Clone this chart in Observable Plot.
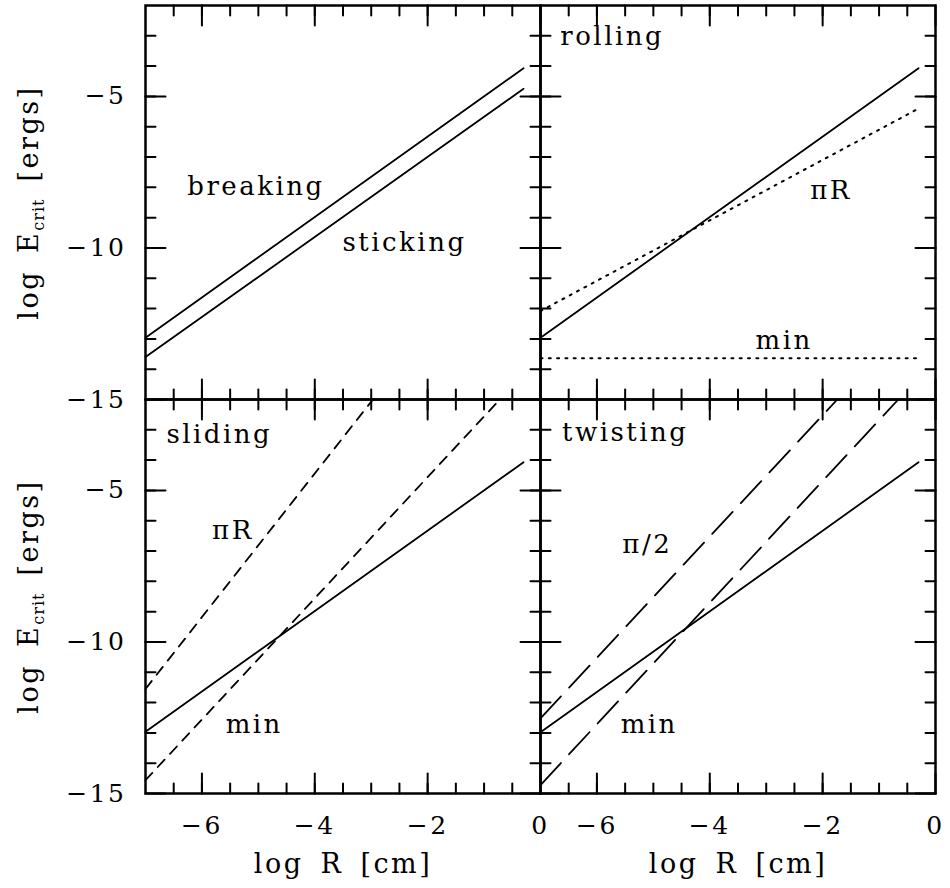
<!DOCTYPE html>
<html>
<head>
<meta charset="utf-8">
<script src="https://cdn.jsdelivr.net/npm/d3@7"></script>
<script src="https://cdn.jsdelivr.net/npm/@observablehq/plot@0.6"></script>
<style>
  html, body { margin: 0; padding: 0; background: #fff; }
  #chart svg text { letter-spacing: 2.5px; word-spacing: 5px; }
</style>
</head>
<body>
<div id="chart"></div>
<script>
// ---- panels ----
const panelCols = ["L", "R"];
const panelRows = ["T", "B"];

// ---- ticks ----
const xMajorTicks = [-6, -4, -2, 0];
const xMinorTicks = [-6.5, -6, -5.5, -5, -4.5, -4, -3.5, -3, -2.5, -2, -1.5, -1, -0.5];
const xTickLabels = ["−6", "−4", "−2", "0"];
const yMajorTicks = [-15, -10, -5];
const yMinorTicks = [-14, -13, -12, -11, -10, -9, -8, -7, -6, -5, -4, -3];
const yTickLabels = ["−15", "−10", "−5"];

// ---- curves (log R [cm], log E_crit [ergs]) ----
const curveLogR = [-7, -0.3];
const breakingLogE = [-12.96, -4.07];
const stickingLogE = [-13.6, -4.75];
const rollingLogE = [-12.96, -4.07];
const rollingPiRLogE = [-12.08, -5.40];
const rollingMinLogE = [-13.64, -13.64];
const slidingLogE = [-12.96, -4.07];
const slidingPiRLogR = [-7, -2.97];
const slidingPiRLogE = [-11.55, -2];
const slidingMinLogR = [-7, -0.72];
const slidingMinLogE = [-14.56, -2];
const twistingLogE = [-12.98, -4.07];
const twistingHalfPiLogR = [-7, -1.74];
const twistingHalfPiLogE = [-12.52, -2];
const twistingMinLogR = [-7, -0.66];
const twistingMinLogE = [-14.72, -2];

// ---- annotations ----
const annotationText = ["breaking", "sticking", "rolling", "πR", "min", "sliding", "πR", "min", "twisting", "π/2", "min"];
const annotationCol = ["L", "L", "R", "R", "R", "L", "L", "L", "R", "R", "R"];
const annotationRow = ["T", "T", "T", "T", "T", "B", "B", "B", "B", "B", "B"];
const annotationLogR = [-6.26, -3.51, -6.65, -2.22, -3.19, -6.63, -5.82, -5.58, -6.62, -5.55, -5.58];
const annotationLogE = [-8.26, -10.10, -3.29, -8.39, -13.34, -3.42, -6.60, -13.02, -3.36, -7.05, -13.02];

const xTitle = "log R [cm]";
const yTitle = "log E_crit [ergs]";

// ---- build table ----
const seriesDefs = [
  ["breaking", "L", "T", curveLogR, breakingLogE],
  ["sticking", "L", "T", curveLogR, stickingLogE],
  ["rolling", "R", "T", curveLogR, rollingLogE],
  ["rollingPiR", "R", "T", curveLogR, rollingPiRLogE],
  ["rollingMin", "R", "T", curveLogR, rollingMinLogE],
  ["sliding", "L", "B", curveLogR, slidingLogE],
  ["slidingPiR", "L", "B", slidingPiRLogR, slidingPiRLogE],
  ["slidingMin", "L", "B", slidingMinLogR, slidingMinLogE],
  ["twisting", "R", "B", curveLogR, twistingLogE],
  ["twistingHalfPi", "R", "B", twistingHalfPiLogR, twistingHalfPiLogE],
  ["twistingMin", "R", "B", twistingMinLogR, twistingMinLogE]
];
const table = seriesDefs.flatMap(([name, col, row, xs, ys]) =>
  xs.map((x, i) => ({name, col, row, x, y: ys[i]})));

const solidNames = ["breaking", "sticking", "rolling", "sliding", "twisting"];
const dottedNames = ["rollingPiR", "rollingMin"];
const dashedNames = ["slidingPiR", "slidingMin"];
const longDashNames = ["twistingHalfPi", "twistingMin"];

const annotations = annotationText.map((t, i) => ({
  text: t, col: annotationCol[i], row: annotationRow[i], x: annotationLogR[i], y: annotationLogE[i]
}));

const lineOpts = {x: "x", y: "y", z: "name", fx: "col", fy: "row", stroke: "black", strokeWidth: 1.8};

// inward tick marks drawn as vectors anchored on the frame edges
const tickShape = {draw(ctx, l) { ctx.moveTo(0, 0); ctx.lineTo(0, -l); }};
const tickMark = (ticks, channel, frameAnchor, rotate, length) =>
  Plot.vector(ticks, {[channel]: d => d, frameAnchor, rotate, length, anchor: "start",
    shape: tickShape, stroke: "black", strokeWidth: 2});

const chart = Plot.plot({
  width: 950,
  height: 888,
  marginLeft: 145,
  marginRight: 15,
  marginTop: 4,
  marginBottom: 95,
  style: {fontFamily: "'DejaVu Serif', serif", fontSize: "24px", color: "black", background: "white"},
  x: {domain: [-7, 0], axis: null},
  y: {domain: [-15, -2], axis: null},
  fx: {domain: panelCols, padding: 0, axis: null},
  fy: {domain: panelRows, padding: 0, axis: null},
  marks: [
    Plot.line(table.filter(d => solidNames.includes(d.name)), lineOpts),
    Plot.line(table.filter(d => dottedNames.includes(d.name)), {...lineOpts, strokeWidth: 2, strokeDasharray: "2,6.3"}),
    Plot.line(table.filter(d => dashedNames.includes(d.name)), {...lineOpts, strokeDasharray: "10,8"}),
    Plot.line(table.filter(d => longDashNames.includes(d.name)), {...lineOpts, strokeDasharray: "30,12"}),

    tickMark(xMajorTicks, "x", "bottom", 0, 20),
    tickMark(xMajorTicks, "x", "top", 180, 20),
    tickMark(xMinorTicks, "x", "bottom", 0, 10),
    tickMark(xMinorTicks, "x", "top", 180, 10),
    tickMark(yMajorTicks, "y", "left", 90, 20),
    tickMark(yMajorTicks, "y", "right", -90, 20),
    tickMark(yMinorTicks, "y", "left", 90, 10),
    tickMark(yMinorTicks, "y", "right", -90, 10),

    Plot.axisX({ticks: xMajorTicks, anchor: "bottom", tickSize: 0, tickPadding: 23, label: null,
      fontSize: 25, fill: "black", tickFormat: d => xTickLabels[xMajorTicks.indexOf(d)]}),
    Plot.axisY({ticks: yMajorTicks, anchor: "left", tickSize: 0, tickPadding: 19, label: null,
      fontSize: 25, fill: "black", tickFormat: d => yTickLabels[yMajorTicks.indexOf(d)]}),

    Plot.frame({stroke: "black", strokeWidth: 2.5}),

    Plot.text(annotations, {x: "x", y: "y", text: "text", fx: "col", fy: "row",
      textAnchor: "start", lineAnchor: "bottom", fontSize: 26, fill: "black"}),

    Plot.text([{col: "L", row: "B"}, {col: "R", row: "B"}], {fx: "col", fy: "row", text: () => xTitle,
      frameAnchor: "bottom", dy: 79, lineAnchor: "bottom", textAnchor: "middle", fontSize: 27, fill: "black"}),
    Plot.text([{col: "L", row: "T"}, {col: "L", row: "B"}], {fx: "col", fy: "row", text: () => yTitle,
      frameAnchor: "left", dx: -108, rotate: -90, lineAnchor: "bottom", textAnchor: "middle", fontSize: 27, fill: "black"})
  ]
});

document.getElementById("chart").appendChild(chart);

// subscript for the y title
d3.select(chart).selectAll("text").filter(function () { return this.textContent === yTitle; }).each(function () {
  const t = d3.select(this);
  const [pre, post] = yTitle.split("_crit");
  t.text(null);
  t.append("tspan").text(pre);
  t.append("tspan").attr("font-size", 16).attr("dy", 6).style("letter-spacing", "1px").text("crit");
  t.append("tspan").attr("dy", -6).text(post);
});
d3.select(chart).selectAll("text").style("word-spacing", "6px");
</script>
</body>
</html>
